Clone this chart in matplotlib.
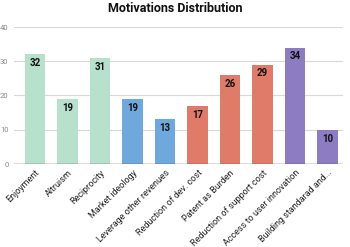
import matplotlib
matplotlib.use('Agg')
import matplotlib.pyplot as plt
import numpy as np

plt.rcParams['font.family'] = ['Roboto', 'DejaVu Sans']

categories = ['Enjoyment', 'Altruism', 'Reciprocity', 'Market ideology',
              'Leverage other revenues', 'Reduction of dev. cost',
              'Patent as Burden', 'Reduction of support cost',
              'Access to user innovation', 'Building standarad and...']
values = [32, 19, 31, 19, 13, 17, 26, 29, 34, 10]
colors = ['#b7e1cd'] * 3 + ['#6fa8dc'] * 2 + ['#e07b6a'] * 3 + ['#8e7cc3'] * 2
yticks = [0, 10, 20, 30, 40]

fig = plt.figure(figsize=(3.5, 2.47), dpi=100)
ax = fig.add_axes([14 / 350, 1 - 164 / 247, (343 - 14) / 350, (164 - 27) / 247])

x = np.arange(len(categories))
bars = ax.bar(x, values, width=0.62, color=colors, zorder=2)
for b, v in zip(bars, values):
    ax.text(b.get_x() + b.get_width() / 2, v - 1.1, str(v), ha='center', va='top',
            fontsize=7, fontweight='bold', color='#111111', zorder=3)

ax.set_xlim(-0.646, 9.477)
ax.set_ylim(0, 40)
ax.set_yticks(yticks)
ax.set_yticklabels([str(t) for t in yticks], fontsize=5.5, color='#888888')
ax.grid(axis='y', color='#d9d9d9', linewidth=0.8, zorder=0)
ax.axhline(0, color='#555555', linewidth=1, zorder=3)
ax.tick_params(axis='y', length=0, pad=4)
ax.set_xticks(x)
ax.set_xticklabels(categories, rotation=45, ha='right', rotation_mode='anchor',
                   fontsize=6.5, color='#222222')
ax.tick_params(axis='x', length=0, pad=3)
for s in ax.spines.values():
    s.set_visible(False)

fig.text(0.5, 1 - 9 / 247, 'Motivations Distribution', ha='center', va='center',
         fontsize=9, fontweight='bold', color='#111111')

fig.savefig('out.png', dpi=100)
